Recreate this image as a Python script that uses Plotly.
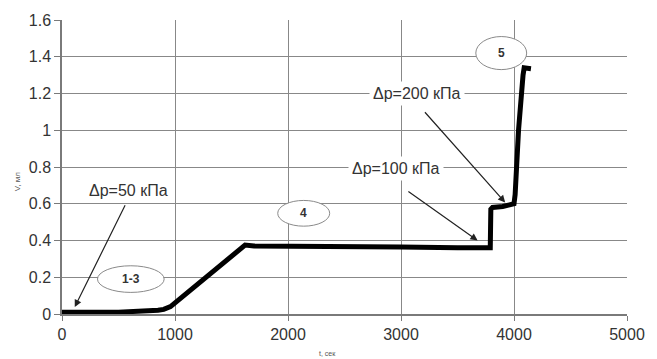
import plotly.graph_objects as go

# curve data (t, sec ; V, ml)
t_sec = [0, 200, 500, 850, 900, 960, 1100, 1300, 1500, 1620, 1700, 2000, 2500, 3000,
         3500, 3790, 3795, 3810, 3900, 4000, 4010, 4040, 4080, 4090, 4150]
v_ml = [0.01, 0.01, 0.01, 0.02, 0.025, 0.04, 0.11, 0.21, 0.31, 0.375, 0.37, 0.37,
        0.365, 0.365, 0.36, 0.36, 0.57, 0.58, 0.585, 0.60, 0.65, 1.0, 1.30, 1.34, 1.335]

# text annotations with arrows: label, text pos, arrow tail, arrow head
ann_labels = ["Δp=50 кПа", "Δp=100 кПа", "Δp=200 кПа"]
ann_text_x = [591, 2957, 3139]
ann_text_y = [0.672, 0.79, 1.198]
arr_tail_x = [565, 3052, 3200]
arr_tail_y = [0.60, 0.672, 1.106]
arr_head_x = [113, 3678, 3922]
arr_head_y = [0.038, 0.40, 0.607]

# ellipse stage markers
stage_labels = ["1-3", "4", "5"]
stage_x = [609, 2139, 3887]
stage_y = [0.19, 0.548, 1.42]
stage_w = [590, 460, 450]
stage_h = [0.145, 0.14, 0.18]

x_ticks = [0, 1000, 2000, 3000, 4000, 5000]
y_ticks = [0, 0.2, 0.4, 0.6, 0.8, 1.0, 1.2, 1.4, 1.6]
y_tick_text = ["0", "0.2", "0.4", "0.6", "0.8", "1", "1.2", "1.4", "1.6"]

fig = go.Figure()
fig.add_trace(go.Scatter(x=t_sec, y=v_ml, mode="lines",
                         line=dict(color="black", width=5), showlegend=False,
                         hoverinfo="skip"))

shapes = []
for sx, sy, sw, sh in zip(stage_x, stage_y, stage_w, stage_h):
    shapes.append(dict(type="circle", xref="x", yref="y",
                       x0=sx - sw / 2, x1=sx + sw / 2, y0=sy - sh / 2, y1=sy + sh / 2,
                       line=dict(color="#8a8a8a", width=1), fillcolor="white",
                       layer="above"))

annotations = []
for lab, sx, sy in zip(stage_labels, stage_x, stage_y):
    annotations.append(dict(x=sx, y=sy, xref="x", yref="y", text="<b>" + lab + "</b>",
                            showarrow=False, font=dict(family="Liberation Sans", size=12, color="#333")))
for tx, ty, hx, hy in zip(arr_tail_x, arr_tail_y, arr_head_x, arr_head_y):
    annotations.append(dict(x=hx, y=hy, ax=tx, ay=ty, xref="x", yref="y",
                            axref="x", ayref="y", text="", showarrow=True,
                            arrowhead=2, arrowsize=1.2, arrowwidth=1.2,
                            arrowcolor="#222"))
for lab, tx, ty in zip(ann_labels, ann_text_x, ann_text_y):
    annotations.append(dict(x=tx, y=ty, xref="x", yref="y", text=lab, showarrow=False,
                            bgcolor="white", borderpad=3,
                            font=dict(family="Liberation Sans", size=16, color="#333")))
annotations.append(dict(x=-0.09, y=0.45, xref="paper", yref="paper", text="V, мл",
                        textangle=-90, showarrow=False,
                        font=dict(family="Liberation Sans", size=8, color="#555")))
annotations.append(dict(x=0.47, y=-0.115, xref="paper", yref="paper", text="t, сек",
                        showarrow=False, yanchor="top",
                        font=dict(family="Liberation Sans", size=7, color="#555")))

fig.update_layout(
    width=657, height=359,
    margin=dict(l=62, r=20, t=19, b=45),
    plot_bgcolor="white", paper_bgcolor="white",
    shapes=shapes, annotations=annotations,
    xaxis=dict(range=[0, 5000], tickvals=x_ticks, showgrid=True, gridcolor="#888888",
               gridwidth=1.3, zeroline=False, showline=True, linecolor="#7a7a7a",
               linewidth=1.5, ticks="outside", ticklen=5, tickcolor="#7a7a7a",
               tickfont=dict(family="Liberation Sans", size=16, color="#333"), mirror=False),
    yaxis=dict(range=[0, 1.6], tickvals=y_ticks, ticktext=y_tick_text, showgrid=True,
               gridcolor="#888888", gridwidth=1.3, zeroline=False, showline=True,
               linecolor="#7a7a7a", linewidth=1.5, ticks="outside", ticklen=6,
               tickcolor="#7a7a7a",
               tickfont=dict(family="Liberation Sans", size=16, color="#333")),
)

fig.write_html("out.html")
